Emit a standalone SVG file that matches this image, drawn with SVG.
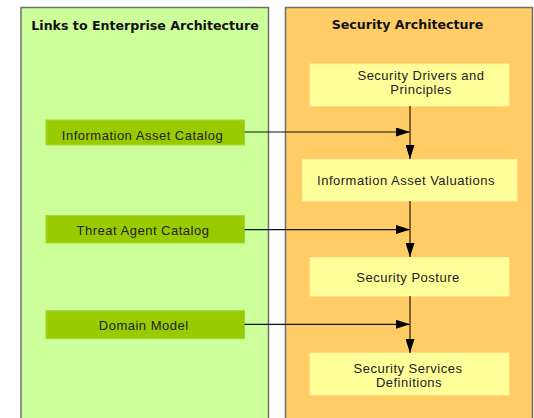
<svg xmlns="http://www.w3.org/2000/svg" width="534" height="418" viewBox="0 0 534 418">
<defs>
<style>
.panel-l{fill:#CCFF99;stroke:#6f6f6f;stroke-width:1.5}
.panel-r{fill:#FFCC66;stroke:#6f6f6f;stroke-width:1.5}
.gbox{fill:#99CC00;stroke:#A8D433;stroke-width:1}
.ybox{fill:#FFFF99;stroke:#FFF0A0;stroke-width:1}
.title{font-family:"DejaVu Sans",Verdana,sans-serif;font-weight:bold;font-size:12.6px;fill:#111;text-anchor:middle}
.lbl{font-family:"Liberation Sans",Arial,sans-serif;font-size:13px;letter-spacing:0.5px;fill:#222;text-anchor:middle}
.conn{stroke:#111;stroke-width:1.2;fill:none}
.vconn{stroke:#3a2a10;stroke-width:1.3;fill:none}
</style>
<marker id="ah" markerUnits="userSpaceOnUse" viewBox="0 0 14 9" refX="14" refY="4.5" markerWidth="14" markerHeight="9" orient="auto">
<path d="M0,0 L14,4.5 L0,9 Z" fill="#000"/>
</marker>
</defs>
<g id="panel-links">
<rect class="panel-l" x="21" y="7.5" width="247.5" height="420"/>
<text class="title" x="145" y="30">Links to Enterprise Architecture</text>
</g>
<g id="panel-security">
<rect class="panel-r" x="285.5" y="7.5" width="247" height="420"/>
<text class="title" x="407.5" y="29">Security Architecture</text>
</g>
<g id="node-drivers">
<rect class="ybox" x="310" y="64" width="199" height="42"/>
<text class="lbl" x="421" y="80">Security Drivers and</text>
<text class="lbl" x="421" y="94">Principles</text>
</g>
<g id="node-valuations">
<rect class="ybox" x="302.5" y="159.5" width="214.5" height="41.5"/>
<text class="lbl" x="406" y="185.3">Information Asset Valuations</text>
</g>
<g id="node-posture">
<rect class="ybox" x="310" y="257.5" width="199" height="38.5"/>
<text class="lbl" x="408" y="282">Security Posture</text>
</g>
<g id="node-services">
<rect class="ybox" x="310" y="353" width="199" height="42"/>
<text class="lbl" x="408" y="372.6">Security Services</text>
<text class="lbl" x="409" y="386.6">Definitions</text>
</g>
<g id="node-asset-catalog">
<rect class="gbox" x="46" y="120" width="198.5" height="25"/>
<text class="lbl" x="142.5" y="139.5">Information Asset Catalog</text>
</g>
<g id="node-threat-catalog">
<rect class="gbox" x="46" y="215.6" width="198.5" height="27.4"/>
<text class="lbl" x="143" y="235.4">Threat Agent Catalog</text>
</g>
<g id="node-domain-model">
<rect class="gbox" x="46" y="310.7" width="198.5" height="27.9"/>
<text class="lbl" x="143.7" y="330">Domain Model</text>
</g>
<g id="connectors">
<line class="conn" x1="244.5" y1="132" x2="410" y2="132" marker-end="url(#ah)"/>
<line class="conn" x1="244.5" y1="229.6" x2="410" y2="229.6" marker-end="url(#ah)"/>
<line class="conn" x1="244.5" y1="324.3" x2="410" y2="324.3" marker-end="url(#ah)"/>
<line class="vconn" x1="410" y1="106" x2="410" y2="159" marker-end="url(#ah)"/>
<line class="vconn" x1="410" y1="201" x2="410" y2="257" marker-end="url(#ah)"/>
<line class="vconn" x1="410" y1="296" x2="410" y2="353" marker-end="url(#ah)"/>
</g>
</svg>
